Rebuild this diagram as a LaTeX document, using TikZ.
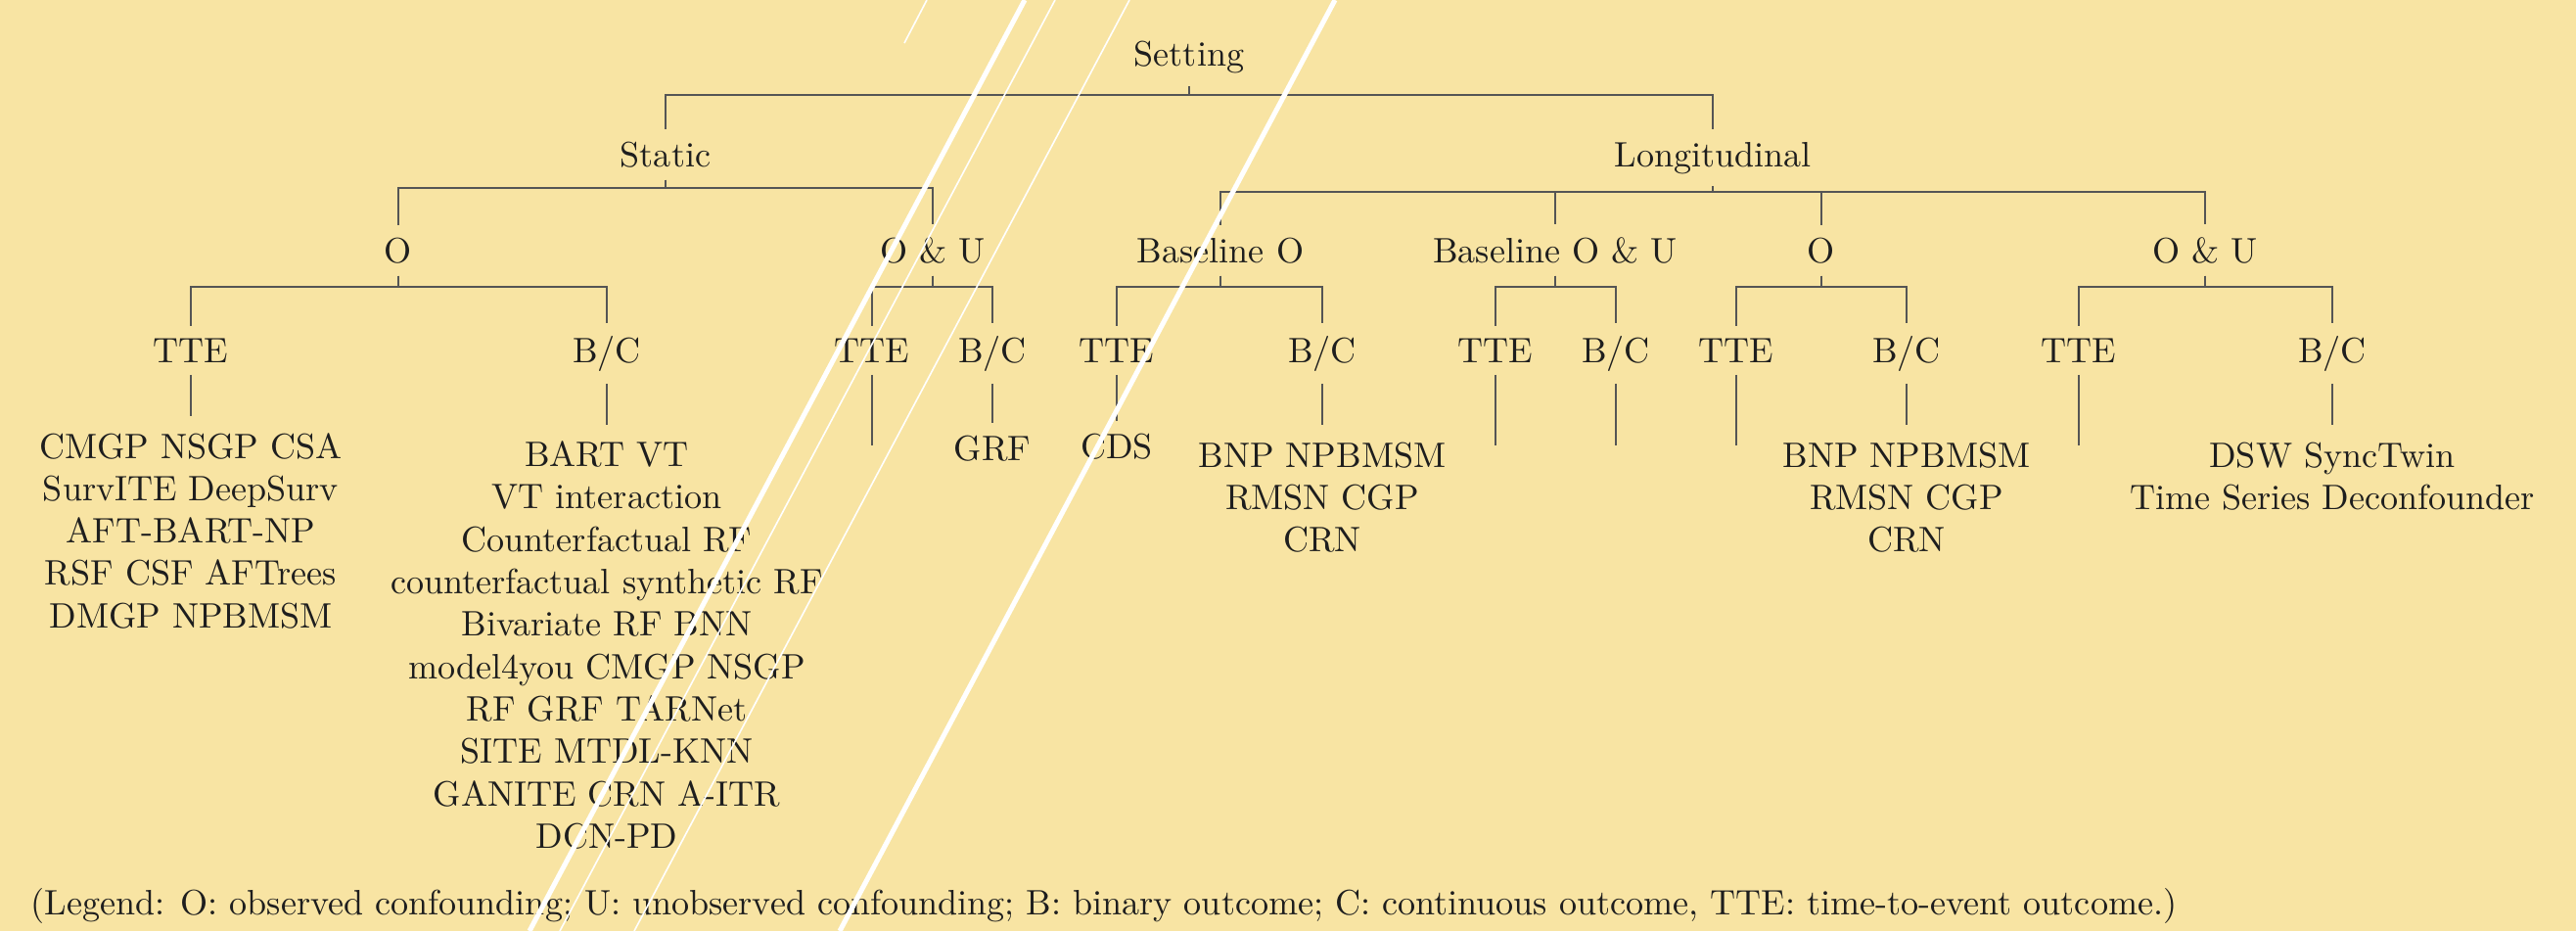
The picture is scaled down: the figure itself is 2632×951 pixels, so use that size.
\documentclass[tikz,border=0pt]{standalone}
\usepackage{array}
\definecolor{bgA}{RGB}{248,228,163}
\definecolor{txt}{RGB}{30,30,30}
\definecolor{edgec}{RGB}{85,85,85}
\newcommand{\lines}[1]{\begin{tabular}[t]{@{}c@{}}#1\end{tabular}}
\begin{document}
\begin{tikzpicture}[x=0.27701pt,y=-0.27701pt,
  lbl/.style={anchor=base, text=txt},
  edge/.style={draw=edgec, line width=0.45pt},
  scratchthick/.style={draw=white, line width=1.4pt},
  scratchthin/.style={draw=white, line width=0.45pt}]
\useasboundingbox (0,0) rectangle (2632,951);
\fill[bgA] (0,0) rectangle (2632,951);

% level 1-4 labels
\node[lbl] (setting) at (1215,68) {Setting};
\node[lbl] (static) at (680,170) {Static};
\node[lbl] (longi) at (1750,170) {Longitudinal};
\node[lbl] (sO) at (407,268) {O};
\node[lbl] (sOU) at (953,268) {O \& U};
\node[lbl] (bO) at (1247,268) {Baseline O};
\node[lbl] (bOU) at (1589,268) {Baseline O \& U};
\node[lbl] (lO) at (1861,268) {O};
\node[lbl] (lOU) at (2253,268) {O \& U};
\node[lbl] (sOt) at (195,370) {TTE};
\node[lbl] (sOb) at (620,370) {B/C};
\node[lbl] (sOUt) at (891,370) {TTE};
\node[lbl] (sOUb) at (1014,370) {B/C};
\node[lbl] (bOt) at (1141,370) {TTE};
\node[lbl] (bOb) at (1351,370) {B/C};
\node[lbl] (bOUt) at (1528,370) {TTE};
\node[lbl] (bOUb) at (1651,370) {B/C};
\node[lbl] (lOt) at (1774,370) {TTE};
\node[lbl] (lOb) at (1948,370) {B/C};
\node[lbl] (lOUt) at (2124,370) {TTE};
\node[lbl] (lOUb) at (2383,370) {B/C};

% leaves
\node[lbl] (l1) at (195,468) {\lines{CMGP NSGP CSA\\ SurvITE DeepSurv\\ AFT-BART-NP\\ RSF CSF AFTrees\\ DMGP NPBMSM}};
\node[lbl] (l2) at (620,476.6) {\lines{BART VT\\ VT interaction\\ Counterfactual RF\\ counterfactual synthetic RF\\ Bivariate RF BNN\\ model4you CMGP NSGP\\ RF GRF TARNet\\ SITE MTDL-KNN\\ GANITE CRN A-ITR\\ DCN-PD}};
\coordinate (e1) at (891,455);
\node[lbl] (l3) at (1014,470) {GRF};
\node[lbl] (l4) at (1141,468) {CDS};
\node[lbl] (l5) at (1351,477) {\lines{BNP NPBMSM\\ RMSN CGP\\ CRN}};
\coordinate (e2) at (1528,455);
\coordinate (e3) at (1651,455);
\coordinate (e4) at (1774,455);
\node[lbl] (l6) at (1948,477) {\lines{BNP NPBMSM\\ RMSN CGP\\ CRN}};
\coordinate (e5) at (2124,455);
\node[lbl] (l7) at (2383,477) {\lines{DSW SyncTwin\\ Time Series Deconfounder}};

\node[lbl, anchor=base west, inner sep=0pt] (legend) at (31,934) {(Legend: O: observed confounding; U: unobserved confounding; B: binary outcome; C: continuous outcome, TTE: time-to-event outcome.)};

% bar heights
\coordinate (b0) at (0,97);
\coordinate (b1s) at (0,192);
\coordinate (b1l) at (0,196);
\coordinate (b2) at (0,293);

\foreach \p/\c/\b in {setting/static/b0, setting/longi/b0,
  static/sO/b1s, static/sOU/b1s,
  longi/bO/b1l, longi/bOU/b1l, longi/lO/b1l, longi/lOU/b1l,
  sO/sOt/b2, sO/sOb/b2, sOU/sOUt/b2, sOU/sOUb/b2,
  bO/bOt/b2, bO/bOb/b2, bOU/bOUt/b2, bOU/bOUb/b2,
  lO/lOt/b2, lO/lOb/b2, lOU/lOUt/b2, lOU/lOUb/b2}
  \draw[edge] (\p.south) -- (\p.south |- \b) -| (\c.north);

\foreach \p/\c in {sOt/l1.north, sOb/l2.north, sOUt/e1, sOUb/l3.north, bOt/l4.north, bOb/l5.north,
  bOUt/e2, bOUb/e3, lOt/e4, lOb/l6.north, lOUt/e5, lOUb/l7.north}
  \draw[edge] (\p.south) -- (\c);

% white scratches
\draw[scratchthin] (947,0) -- (924,44);
\draw[scratchthick] (1047,0) -- (541,951);
\draw[scratchthin] (1078,0) -- (572,951);
\draw[scratchthin] (1154,0) -- (648,951);
\draw[scratchthick] (1364,0) -- (858,951);
\end{tikzpicture}
\end{document}
